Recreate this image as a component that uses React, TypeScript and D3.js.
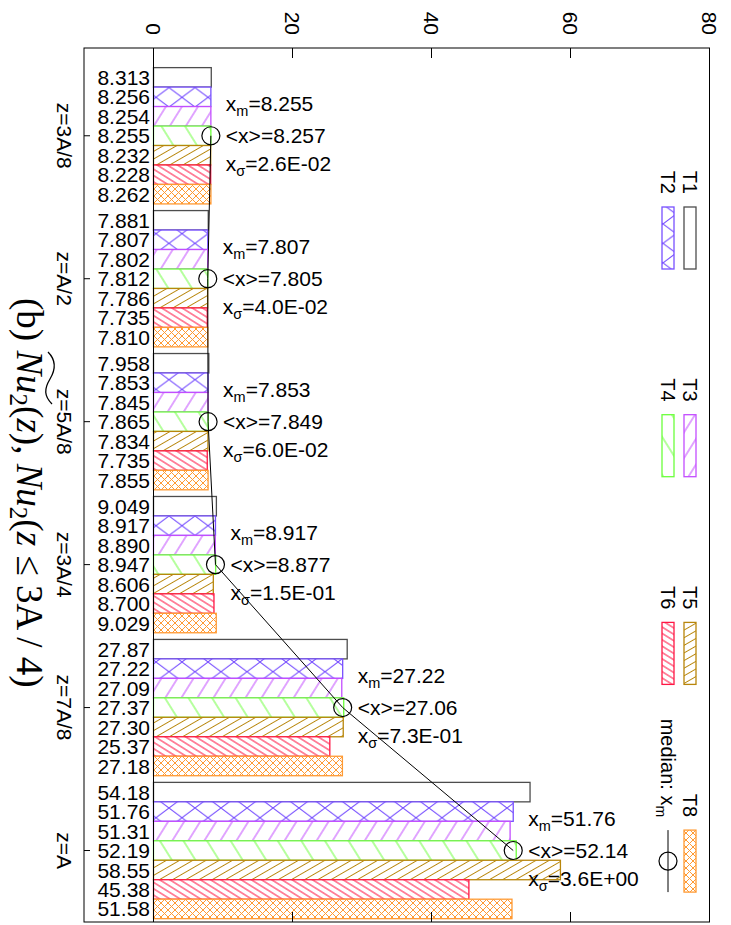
import React from "react";
import * as d3 from "d3";

const groups = ["z=3A/8", "z=A/2", "z=5A/8", "z=3A/4", "z=7A/8", "z=A"];
const seriesNames = ["T1", "T2", "T3", "T4", "T5", "T6", "T8"];
const T1 = [8.313, 7.881, 7.958, 9.049, 27.87, 54.18];
const T2 = [8.256, 7.807, 7.853, 8.917, 27.22, 51.76];
const T3 = [8.254, 7.802, 7.845, 8.89, 27.09, 51.31];
const T4 = [8.255, 7.812, 7.865, 8.947, 27.37, 52.19];
const T5 = [8.232, 7.786, 7.834, 8.606, 27.3, 58.55];
const T6 = [8.228, 7.735, 7.735, 8.7, 25.37, 45.38];
const T8 = [8.262, 7.81, 7.855, 9.029, 27.18, 51.58];
const seriesValues = [T1, T2, T3, T4, T5, T6, T8];
const medians = [8.255, 7.807, 7.853, 8.917, 27.22, 51.76];
const means = [8.257, 7.805, 7.849, 8.877, 27.06, 52.14];
const sigmas = ["2.6E-02", "4.0E-02", "6.0E-02", "1.5E-01", "7.3E-01", "3.6E+00"];
const valueTicks = [0, 20, 40, 60, 80];

const colors = ["#4d4d4d", "#7850ff", "#c34dff", "#6cff3c", "#b8860b", "#ff1744", "#ff9a33"];
const fills = ["#ffffff", "url(#p2)", "url(#p3)", "url(#p4)", "url(#p5)", "url(#p6)", "url(#p8)"];

const W = 731;
const H = 925;
const FONT = "'Liberation Sans', Arial, Helvetica, sans-serif";
const FS = 21;

const fmt = (v: number) => (v < 10 ? v.toFixed(3) : v.toFixed(2));

export default function App() {
  const x = d3.scaleLinear().domain([-10, 80]).range([84, 709.5]);
  const yG = d3.scaleLinear().domain([-0.614, 5.5]).range([48, 922]);
  const barH = 19.47;
  const inner = d3
    .scaleBand<string>()
    .domain(seriesNames)
    .range([-3.5 * barH, 3.5 * barH])
    .padding(0);

  const frameL = x(-10);
  const frameR = x(80);
  const frameT = yG(-0.614);
  const frameB = yG(5.5);
  const x0 = x(0);

  const linePts = medians.map((m, i) => [x(m), yG(i)] as [number, number]);
  const lineGen = d3.line();

  const legendItems = seriesNames.map((n, i) => ({
    name: n,
    col: Math.floor(i / 2),
    row: i % 2,
    color: colors[i],
    fill: fills[i],
  }));
  const legTop = (col: number) => 207 + col * 207.7;
  const legX = (row: number) => (row === 0 ? 684 : 662);

  const linePattern = (id: string, color: string, s: number, angle: number) => (
    <pattern
      id={id}
      patternUnits="userSpaceOnUse"
      width={s}
      height={20}
      patternTransform={`rotate(${angle})`}
    >
      <rect width={s} height={20} fill="white" />
      <line x1={s / 2} y1={0} x2={s / 2} y2={20} stroke={color} strokeWidth={1} />
    </pattern>
  );

  return (
    <svg width={W} height={H} style={{ display: "block", position: "absolute", left: 0, top: 0 }}>
      <defs>
        <pattern id="p2" patternUnits="userSpaceOnUse" width={26} height={19.47}>
          <rect width={26} height={19.47} fill="white" />
          <path d="M0,0 L26,19.47 M26,0 L0,19.47" stroke={colors[1]} strokeWidth={1} fill="none" />
        </pattern>
        {linePattern("p3", colors[2], 13.6, 32)}
        {linePattern("p4", colors[3], 20, -32)}
        {linePattern("p5", colors[4], 6.6, 60)}
        {linePattern("p6", colors[5], 5.4, -58)}
        <pattern id="p8" patternUnits="userSpaceOnUse" width={7} height={7}>
          <rect width={7} height={7} fill="white" />
          <path d="M0,0 L7,7 M7,0 L0,7" stroke={colors[6]} strokeWidth={1} fill="none" />
        </pattern>
      </defs>
      <rect x={0} y={0} width={W} height={H} fill="white" />

      {/* bars */}
      {groups.map((g, gi) => (
        <g key={g}>
          {seriesNames.map((s, si) => {
            const v = seriesValues[si][gi];
            const yTop = yG(gi) + (inner(s) as number);
            return (
              <rect
                key={s}
                x={x0}
                y={yTop}
                width={x(v) - x0}
                height={barH}
                fill={fills[si]}
                stroke={colors[si]}
                strokeWidth={1.3}
              />
            );
          })}
        </g>
      ))}

      {/* frame */}
      <rect x={frameL} y={frameT} width={frameR - frameL} height={frameB - frameT} fill="none" stroke="black" strokeWidth={1} />
      <line x1={x0} y1={frameT} x2={x0} y2={frameB} stroke="black" strokeWidth={1} />

      {/* value ticks (top + mirror bottom) */}
      {valueTicks.map((t) => (
        <g key={t}>
          <line x1={x(t)} y1={frameT} x2={x(t)} y2={frameT + 10} stroke="black" />
          <line x1={x(t)} y1={frameB} x2={x(t)} y2={frameB - 10} stroke="black" />
          <text
            transform={`translate(${x(t)},35) rotate(90)`}
            textAnchor="end"
            dy="0.35em"
            fontFamily={FONT}
            fontSize={FS}
          >
            {t}
          </text>
        </g>
      ))}

      {/* group ticks and labels */}
      {groups.map((g, gi) => (
        <g key={g}>
          <line x1={frameL} y1={yG(gi)} x2={frameL + 6} y2={yG(gi)} stroke="black" />
          <text
            transform={`translate(57,${yG(gi)}) rotate(90)`}
            textAnchor="middle"
            fontFamily={FONT}
            fontSize={FS}
          >
            {g}
          </text>
        </g>
      ))}

      {/* value labels */}
      {groups.map((g, gi) =>
        seriesNames.map((s, si) => (
          <text
            key={g + s}
            x={150}
            y={yG(gi) + (inner(s) as number) + barH / 2}
            dy="0.36em"
            textAnchor="end"
            fontFamily={FONT}
            fontSize={FS}
          >
            {fmt(seriesValues[si][gi])}
          </text>
        ))
      )}

      {/* median line and circles */}
      <path d={lineGen(linePts) || ""} fill="none" stroke="black" strokeWidth={1} />
      {linePts.map((p, i) => (
        <circle key={i} cx={p[0]} cy={p[1]} r={9} fill="none" stroke="black" strokeWidth={1.2} />
      ))}

      {/* annotations */}
      {groups.map((g, gi) => {
        const tx = x(medians[gi]) + 15;
        const c = yG(gi);
        return (
          <g key={g} fontFamily={FONT} fontSize={FS}>
            <text x={tx} y={c - 25}>
              x<tspan dy={5} fontSize={14.5}>m</tspan>
              <tspan dy={-5}>{"=" + fmt(medians[gi])}</tspan>
            </text>
            <text x={tx} y={c + 7}>{"<x>=" + fmt(means[gi])}</text>
            <text x={tx} y={c + 35}>
              x<tspan dy={5} fontSize={14.5}>σ</tspan>
              <tspan dy={-5}>{"=" + sigmas[gi]}</tspan>
            </text>
          </g>
        );
      })}

      {/* legend */}
      {legendItems.map((it) => {
        const top = legTop(it.col);
        const lx = legX(it.row);
        return (
          <g key={it.name}>
            <rect x={lx} y={top} width={12} height={62} fill={it.fill} stroke={it.color} strokeWidth={1.3} />
            <text
              transform={`translate(${lx + 6},${top - 13}) rotate(90)`}
              textAnchor="end"
              dy="0.35em"
              fontFamily={FONT}
              fontSize={20}
            >
              {it.name}
            </text>
          </g>
        );
      })}
      {(() => {
        const top = legTop(3);
        const lx = 668;
        return (
          <g>
            <line x1={lx} y1={top} x2={lx} y2={top + 62} stroke="black" strokeWidth={1} />
            <circle cx={lx} cy={top + 31} r={9} fill="none" stroke="black" strokeWidth={1.2} />
            <text
              transform={`translate(${lx},${top - 13}) rotate(90)`}
              textAnchor="end"
              dy="0.35em"
              fontFamily={FONT}
              fontSize={20}
            >
              median: x<tspan dy={5} fontSize={14}>m</tspan>
            </text>
          </g>
        );
      })()}

      {/* title */}
      <g transform="translate(17,298) rotate(90)" fontFamily="'Liberation Serif', 'Times New Roman', serif" fontSize={37}>
        <text x={0} y={0}>
          (b){" "}
          <tspan fontStyle="italic">Nu</tspan>
          <tspan dy={7} fontSize={25}>2</tspan>
          <tspan dy={-7}>(</tspan>
          <tspan fontStyle="italic">z</tspan>
          <tspan>), </tspan>
          <tspan fontStyle="italic">Nu</tspan>
          <tspan dy={7} fontSize={25}>2</tspan>
          <tspan dy={-7}>(</tspan>
          <tspan fontStyle="italic">z</tspan>
          <tspan> ≤ 3A / 4)</tspan>
        </text>
        <path d="M54,-31 C62,-39 71,-39 81,-33 S98,-27 106,-35" fill="none" stroke="black" strokeWidth={1.3} />
      </g>
    </svg>
  );
}
